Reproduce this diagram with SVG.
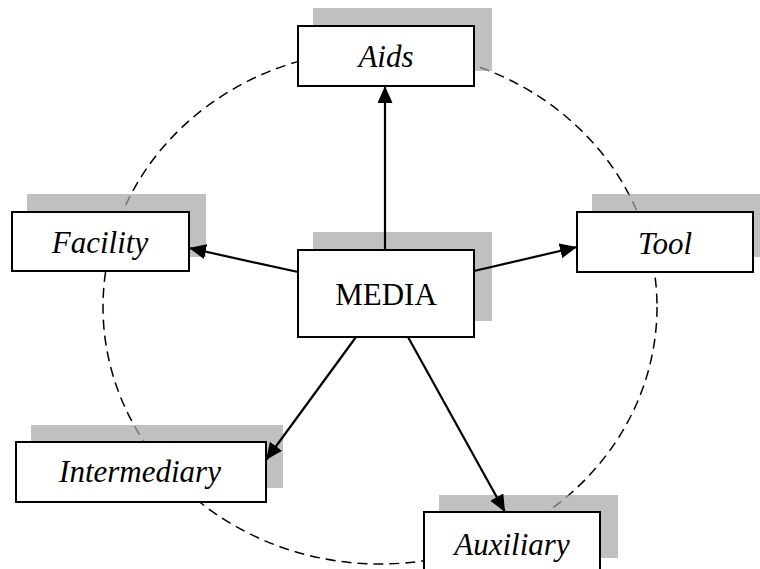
<svg xmlns="http://www.w3.org/2000/svg" width="760" height="569" viewBox="0 0 760 569">
  <style>
    .shadow { fill: #a5a5a5; fill-opacity: 0.7; stroke: none; }
    .box { fill: #ffffff; stroke: #000000; stroke-width: 2; }
    .label { font-family: "Liberation Serif", "Times New Roman", serif; font-size: 31px; font-style: italic; fill: #000000; text-anchor: middle; }
    .center-label { font-style: normal; }
    .ring { fill: none; stroke: #000000; stroke-width: 1.5; stroke-dasharray: 10 6; }
    .arrow { stroke: #000000; stroke-width: 2.2; fill: none; marker-end: url(#head); }
  </style>
  <defs>
    <marker id="head" markerUnits="userSpaceOnUse" markerWidth="18" markerHeight="16" refX="17" refY="7.5" orient="auto">
      <path d="M0,0 L17,7.5 L0,15 Z" fill="#000000"/>
    </marker>
  </defs>

  <rect width="760" height="569" fill="#ffffff"/>

  <!-- dashed ring around the centre -->
  <g id="ring">
    <ellipse class="ring" cx="380" cy="307" rx="277" ry="257"/>
  </g>

  <g id="node-aids">
    <rect class="shadow" x="313" y="8" width="179" height="63"/>
    <rect class="box" x="298" y="26" width="176" height="60"/>
    <text class="label" x="386" y="67">Aids</text>
  </g>

  <g id="node-facility">
    <rect class="shadow" x="27" y="194" width="179" height="63"/>
    <rect class="box" x="12" y="212" width="177" height="59"/>
    <text class="label" x="100" y="253">Facility</text>
  </g>

  <g id="node-media">
    <rect class="shadow" x="313" y="232" width="179" height="89"/>
    <rect class="box" x="298" y="250" width="176" height="87"/>
    <text class="label center-label" x="386" y="305">MEDIA</text>
  </g>

  <g id="node-tool">
    <rect class="shadow" x="592" y="194" width="179" height="63"/>
    <rect class="box" x="577" y="212" width="176" height="60"/>
    <text class="label" x="665" y="254">Tool</text>
  </g>

  <g id="node-intermediary">
    <rect class="shadow" x="31" y="425" width="252" height="63"/>
    <rect class="box" x="16" y="442" width="250" height="60"/>
    <text class="label" x="140" y="482">Intermediary</text>
  </g>

  <g id="node-auxiliary">
    <rect class="shadow" x="439" y="495" width="179" height="63"/>
    <rect class="box" x="424" y="512" width="176" height="62"/>
    <text class="label" x="512" y="555">Auxiliary</text>
  </g>

  <!-- connectors from MEDIA outwards -->
  <g id="connectors">
    <line class="arrow" x1="385" y1="250" x2="385" y2="86"/>
    <line class="arrow" x1="298" y1="272" x2="189" y2="248"/>
    <line class="arrow" x1="474" y1="271" x2="577" y2="247"/>
    <line class="arrow" x1="356" y1="337" x2="266" y2="460"/>
    <line class="arrow" x1="408" y1="337" x2="505" y2="512"/>
  </g>
</svg>
